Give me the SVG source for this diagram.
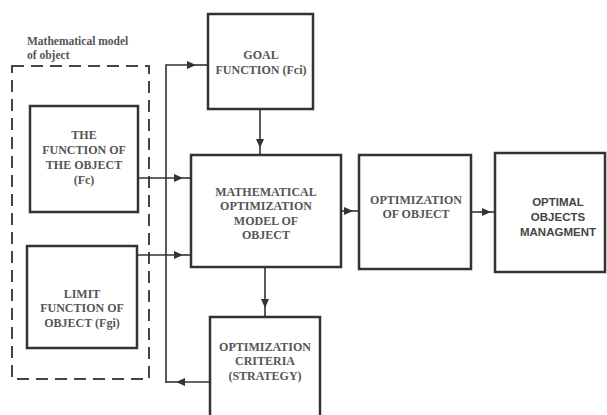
<svg xmlns="http://www.w3.org/2000/svg" width="607" height="415" viewBox="0 0 607 415">
<defs>
<marker id="ah" markerWidth="10" markerHeight="8" refX="9" refY="4" orient="auto" markerUnits="userSpaceOnUse">
<path d="M0,0 L9,4 L0,8 Z" fill="#333"/>
</marker>
<style>
.box{fill:#fff;stroke:#333;stroke-width:2.5}
.dash{fill:none;stroke:#444;stroke-width:2;stroke-dasharray:12,7}
.ln{fill:none;stroke:#333;stroke-width:1.6}
.t{font-family:"Liberation Serif","Times New Roman",serif;font-weight:bold;font-size:12px;fill:#555;text-anchor:middle}
.s{font-family:"Liberation Sans",Arial,sans-serif;font-weight:bold;font-size:11.5px;fill:#444;text-anchor:middle}
.h{font-family:"Liberation Serif","Times New Roman",serif;font-weight:bold;font-size:11.5px;fill:#555}
</style>
</defs>
<rect width="607" height="415" fill="#fff"/>
<g id="model-frame">
<rect class="dash" x="12" y="66" width="137" height="313"/>
<text class="h" x="27" y="45">Mathematical model</text>
<text class="h" x="27" y="59">of object</text>
</g>
<g id="connectors">
<path class="ln" d="M138,178 H183" marker-end="url(#ah)"/>
<path class="ln" d="M183,178 H191"/>
<path class="ln" d="M137,255 H183" marker-end="url(#ah)"/>
<path class="ln" d="M183,255 H191"/>
<path class="ln" d="M166,383 V65 H196" marker-end="url(#ah)"/>
<path class="ln" d="M196,65 H208"/>
<path class="ln" d="M260,109 V148" marker-end="url(#ah)"/>
<path class="ln" d="M260,148 V155"/>
<path class="ln" d="M265,267 V308" marker-end="url(#ah)"/>
<path class="ln" d="M265,308 V317"/>
<path class="ln" d="M341,211 H353" marker-end="url(#ah)"/>
<path class="ln" d="M353,211 H359"/>
<path class="ln" d="M471,212 H491" marker-end="url(#ah)"/>
<path class="ln" d="M491,212 H495"/>
<path class="ln" d="M210,382 H176" marker-end="url(#ah)"/>
<path class="ln" d="M176,382 H166"/>
</g>
<g id="fc">
<rect class="box" x="30" y="106" width="108" height="106"/>
<text class="t" x="84" y="139">THE</text>
<text class="t" x="84" y="154">FUNCTION OF</text>
<text class="t" x="84" y="169">THE OBJECT</text>
<text class="t" x="84" y="184">(Fc)</text>
</g>
<g id="limit">
<rect class="box" x="27" y="246" width="110" height="102"/>
<text class="t" x="82" y="298">LIMIT</text>
<text class="t" x="82" y="312">FUNCTION OF</text>
<text class="t" x="82" y="327">OBJECT (Fgi)</text>
</g>
<g id="goal">
<rect class="box" x="208" y="14" width="105" height="95"/>
<text class="t" x="261" y="59">GOAL</text>
<text class="t" x="261" y="74">FUNCTION (Fci)</text>
</g>
<g id="math">
<rect class="box" x="191" y="155" width="150" height="112"/>
<text class="t" x="266" y="196">MATHEMATICAL</text>
<text class="t" x="266" y="210">OPTIMIZATION</text>
<text class="t" x="266" y="225">MODEL OF</text>
<text class="t" x="266" y="239">OBJECT</text>
</g>
<g id="criteria">
<rect class="box" x="210" y="317" width="110" height="110"/>
<text class="t" x="265" y="351">OPTIMIZATION</text>
<text class="t" x="265" y="365">CRITERIA</text>
<text class="t" x="265" y="380">(STRATEGY)</text>
</g>
<g id="optimization">
<rect class="box" x="359" y="155" width="112" height="114"/>
<text class="t" x="416" y="204">OPTIMIZATION</text>
<text class="t" x="416" y="218">OF OBJECT</text>
</g>
<g id="optimal">
<rect class="box" x="495" y="153" width="110" height="119"/>
<text class="s" x="558" y="206">OPTIMAL</text>
<text class="s" x="558" y="221">OBJECTS</text>
<text class="s" x="558" y="236">MANAGMENT</text>
</g>
</svg>
